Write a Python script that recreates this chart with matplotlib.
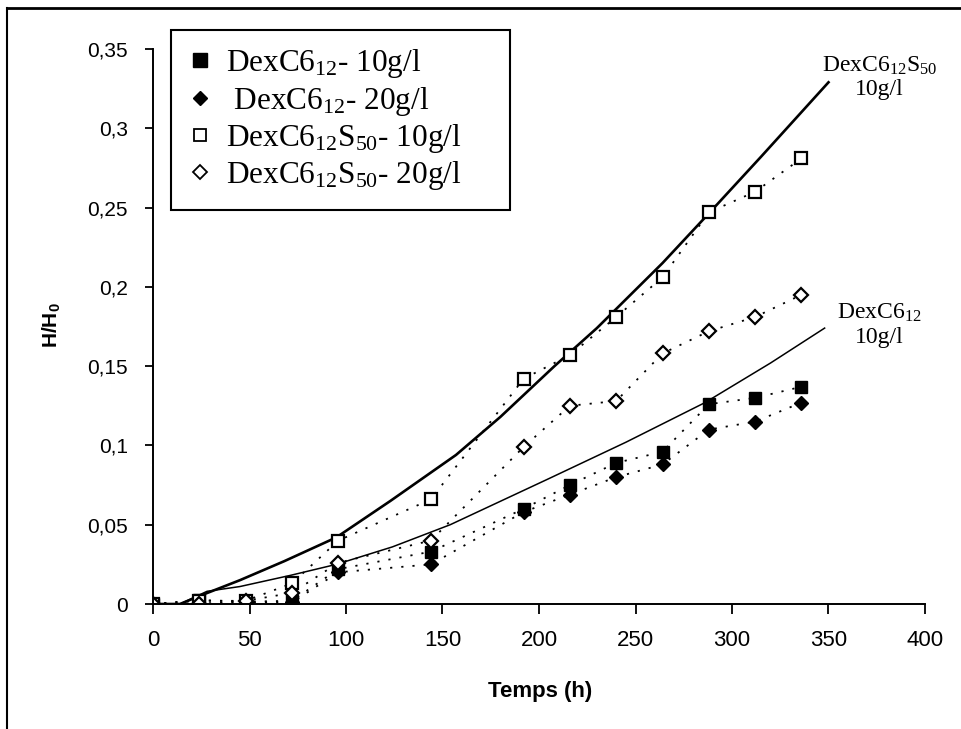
import numpy as np
import matplotlib
matplotlib.use("Agg")
import matplotlib.pyplot as plt
from matplotlib.lines import Line2D
from matplotlib.ticker import FuncFormatter, MultipleLocator

# temps de mesure (h)
temps = [0, 24, 48, 72, 96, 144, 192, 216, 240, 264, 288, 312, 336]

# H/H0 pour chaque echantillon
c6_10 = [0, 0.0025, 0.0015, 0.002, 0.022, 0.033, 0.060, 0.075, 0.089, 0.096, 0.126, 0.130, 0.137]
c6_20 = [0, 0, 0.001, 0.001, 0.020, 0.025, 0.058, 0.069, 0.080, 0.088, 0.110, 0.115, 0.127]
s50_10 = [0, 0.002, 0.002, 0.013, 0.040, 0.066, 0.142, 0.157, 0.181, 0.206, 0.247, 0.260, 0.281]
s50_20 = [0, 0, 0.002, 0.007, 0.026, 0.040, 0.099, 0.125, 0.128, 0.158, 0.172, 0.181, 0.195]

# courbes modeles
fit_s50_t = [0, 14, 24, 45, 68, 95, 123, 157, 180, 208, 230, 264, 287, 315, 350]
fit_s50_y = [0, 0, 0.005, 0.015, 0.027, 0.042, 0.065, 0.094, 0.118, 0.150, 0.174, 0.215, 0.245, 0.282, 0.329]
fit_c6_t = [0, 14, 28, 45, 71, 95, 124, 154, 205, 245, 286, 320, 348]
fit_c6_y = [0, 0, 0.008, 0.011, 0.018, 0.025, 0.036, 0.050, 0.079, 0.102, 0.127, 0.152, 0.174]

labels = ["DexC6$\\mathregular{_{12}}$- 10g/l",
          " DexC6$\\mathregular{_{12}}$- 20g/l",
          "DexC6$\\mathregular{_{12}}$S$\\mathregular{_{50}}$- 10g/l     ",
          "DexC6$\\mathregular{_{12}}$S$\\mathregular{_{50}}$- 20g/l"]

serif = "Liberation Serif"
sans = "Liberation Sans"

fig = plt.figure(figsize=(9.62, 7.29), dpi=100)
ax = fig.add_axes([153/962, 1-604/729, (925-153)/962, (604-49)/729])

# courbes
ax.plot(fit_s50_t, fit_s50_y, color="black", lw=1.9)
ax.plot(fit_c6_t, fit_c6_y, color="black", lw=1.1)

dot = (0, (1.2, 5))
ax.plot(temps, c6_10, color="black", ls=dot, lw=1.3, marker="s", ms=8.5, mfc="black", mec="black")
ax.plot(temps, c6_20, color="black", ls=dot, lw=1.3, marker="D", ms=7.2, mfc="black", mec="black")
ax.plot(temps, s50_10, color="black", ls=dot, lw=1.3, marker="s", ms=8.5, mfc="white", mec="black", mew=1.6)
ax.plot(temps, s50_20, color="black", ls=dot, lw=1.3, marker="D", ms=7.2, mfc="white", mec="black", mew=1.6)

ax.set_xlim(0, 400)
ax.set_ylim(0, 0.35)
ax.xaxis.set_major_locator(MultipleLocator(50))
ax.yaxis.set_major_locator(MultipleLocator(0.05))
ax.yaxis.set_major_formatter(FuncFormatter(lambda v, p: ("%g" % round(v, 2)).replace(".", ",")))

for s in ["top", "right"]:
    ax.spines[s].set_visible(False)
for s in ["left", "bottom"]:
    ax.spines[s].set_linewidth(1.4)
ax.tick_params(axis="x", direction="out", length=7, width=1.3, pad=12, labelsize=16)
ax.tick_params(axis="y", direction="out", length=6, width=1.3, pad=12, labelsize=15)
for lab in ax.get_xticklabels() + ax.get_yticklabels():
    lab.set_fontfamily(sans)

ax.set_xlabel("Temps (h)", fontsize=16, fontweight="bold", family=sans)
ax.set_ylabel("H/H$\\mathregular{_0}$", fontsize=15, fontweight="bold", family=sans)
ax.xaxis.set_label_coords((540-153)/772, -(681-604)/555)
ax.yaxis.set_label_coords(-(153-63)/772, (604-325)/555)

# legende
handles = [
    Line2D([], [], ls="none", marker="s", ms=9.5, mfc="black", mec="black"),
    Line2D([], [], ls="none", marker="D", ms=7, mfc="black", mec="black"),
    Line2D([], [], ls="none", marker="s", ms=8, mfc="white", mec="black", mew=1.3),
    Line2D([], [], ls="none", marker="D", ms=7, mfc="white", mec="black", mew=1.3),
]
leg = fig.legend(handles, labels, loc="upper left", bbox_to_anchor=(171/962, 1-30/729),
                 borderaxespad=0, prop={"family": serif, "size": 22.5}, frameon=True,
                 fancybox=False, edgecolor="black", framealpha=1, borderpad=0.55,
                 labelspacing=0.14, handlelength=0.75, handletextpad=0.45)
leg.get_frame().set_linewidth(1.5)

# annotations des courbes
ax.text(376.5, 0.332, "DexC6$\\mathregular{_{12}}$S$\\mathregular{_{50}}$\n10g/l", ha="center", va="center",
        family=serif, fontsize=17, linespacing=1.15)
ax.text(376.5, 0.176, "DexC6$\\mathregular{_{12}}$\n10g/l", ha="center", va="center",
        family=serif, fontsize=17, linespacing=1.15)

# cadre de la figure (haut et gauche)
fig.add_artist(Line2D([7/962, 1], [1-8/729, 1-8/729], color="black", lw=2))
fig.add_artist(Line2D([7/962, 7/962], [0, 1-8/729], color="black", lw=1.5))

fig.savefig("out.png", dpi=100)
